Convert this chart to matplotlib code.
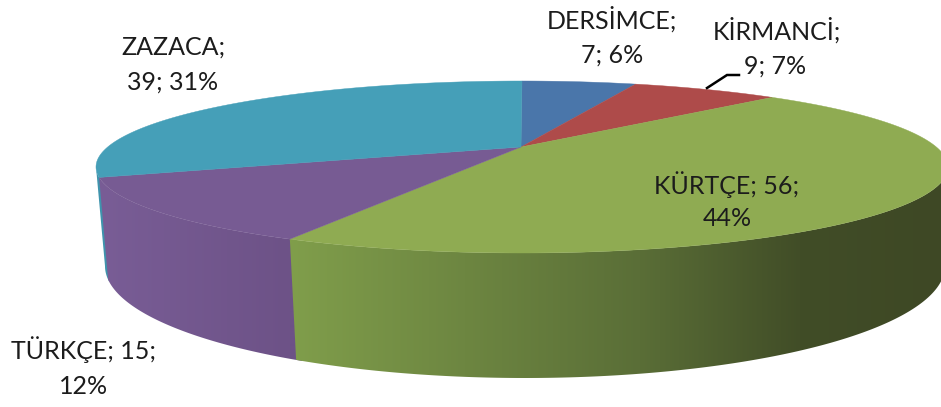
import numpy as np
import matplotlib
matplotlib.use("Agg")
import matplotlib.pyplot as plt
from matplotlib.patches import Polygon
from matplotlib.colors import to_rgb

# ---- data ----
names = ["DERSİMCE", "KİRMANCİ", "KÜRTÇE", "TÜRKÇE", "ZAZACA"]
values = [7, 9, 56, 15, 39]

# ---- style ----
top_colors = ["#4a76aa", "#ae4b4a", "#8fab52", "#775b93", "#459fb8"]
side_x = [[0, 941], [0, 941], [290, 640, 800, 941], [100, 290], [90, 110]]
side_colors = [["#3f648f", "#3f648f"], ["#8f3d3c", "#8f3d3c"],
               ["#809e4b", "#5a6e37", "#414d27", "#3e4825"],
               ["#795d96", "#6d5287"], ["#3f94ad", "#3f94ad"]]
label_lines = ["{n};|{v}; {p}%", "{n};|{v}; {p}%", "{n}; {v};|{p}%", "{n}; {v};|{p}%", "{n};|{v}; {p}%"]
label_xy = [[(612, 19), (612, 55)], [(777, 30), (775, 66)], [(727, 185), (727, 219)],
            [(84, 350), (84, 387)], [(173, 47), (173, 82)]]

# ---- projection of the tilted pie ----
apex = (521, 147)
top_ell = (522, 167, 426, 86)
bot_ell = (525, 266, 420, 112)
persp = 0.77
overlap = 1.0

def rim(phi_deg, ell):
    phi = np.radians(phi_deg)
    cx, cy, a, b = ell
    return cx + a * np.sin(phi), cy - b * np.cos(phi)

def to_phi(theta_deg):
    half = np.radians(np.asarray(theta_deg, float)) / 2
    return np.degrees(2 * np.arctan2(persp * np.sin(half), np.cos(half)))

fig = plt.figure(figsize=(9.41, 4.07), dpi=100)
ax = fig.add_axes([0, 0, 1, 1])

total = sum(values)
cum = np.concatenate([[0], np.cumsum(values)]) * 360.0 / total
phis = to_phi(cum)

# sides (front half of the rim only), filled with a horizontal gradient;
# each one runs slightly under its neighbour so no seam shows
for i in [4, 3, 2]:
    lo, hi = max(phis[i] - overlap, 90), min(phis[i + 1], 270)
    if hi <= lo:
        continue
    grid = np.linspace(lo, hi, 240)
    tx, ty = rim(grid, top_ell)
    bx, by = rim(grid, bot_ell)
    outline = np.column_stack([np.r_[tx, bx[::-1]], np.r_[ty, by[::-1]]])
    stops = np.array([to_rgb(c) for c in side_colors[i]])
    xs = np.arange(0, 950)
    band = np.stack([np.interp(xs, side_x[i], stops[:, c]) for c in range(3)], axis=-1)[None, :, :]
    im = ax.imshow(band, extent=(0, 950, 407, 0), aspect="auto", zorder=2 + (4 - i), interpolation="bilinear")
    clip = Polygon(outline, closed=True, transform=ax.transData, facecolor="none", edgecolor="none")
    ax.add_patch(clip)
    im.set_clip_path(clip)

# top faces
for i in range(len(values)):
    grid = np.linspace(phis[i], phis[i + 1], 300)
    x, y = rim(grid, top_ell)
    ax.fill(np.r_[apex[0], x], np.r_[apex[1], y], color=top_colors[i], lw=0.3, zorder=10)

# leader line for the second label
ax.plot([707, 727, 739], [88, 75, 75], color="black", lw=1.8, solid_joinstyle="miter", zorder=11)

# labels
for name, v, fmt, xy in zip(names, values, label_lines, label_xy):
    pct = round(100 * v / total)
    for line, (lx, ly) in zip(fmt.format(n=name, v=v, p=pct).split("|"), xy):
        ax.text(lx, ly, line, ha="center", va="center", fontsize=18, family="Lato", color="#1c1c1c", zorder=12)

ax.set_xlim(0, 941)
ax.set_ylim(407, 0)
ax.axis("off")
fig.savefig("out.png", dpi=100)
